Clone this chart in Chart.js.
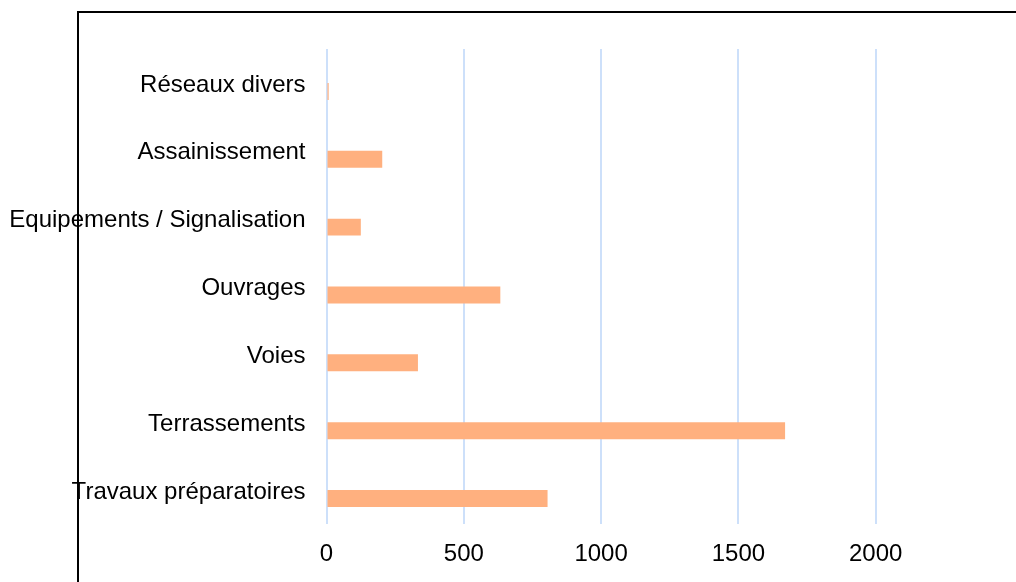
<!DOCTYPE html>
<html>
<head>
    <title>Travaux</title>
    <style>
        body {
            margin: 0;
            background: #ffffff;
        }

        .frame {
            position: absolute;
            left: 77px;
            top: 11px;
            width: 1000px;
            height: 600px;
            border-top: 2px solid #000;
            border-left: 2px solid #000;
        }

        .chart-container {
            position: absolute;
            left: 0;
            top: 0;
            width: 1016px;
            height: 582px;
        }
    </style>
    <script src="https://cdn.jsdelivr.net/npm/chart.js"></script>
</head>
<body>

    <div class="frame"></div>
    <div class="chart-container">
        <canvas id="travauxChart"></canvas>
    </div>

    <script>
        const categories = [
            'Réseaux divers',
            'Assainissement',
            'Equipements / Signalisation',
            'Ouvrages',
            'Voies',
            'Terrassements',
            'Travaux préparatoires'
        ];
        const values = [8, 203, 125, 633, 333, 1670, 805];
        const tickValues = [0, 500, 1000, 1500, 2000];

        const ctx = document.getElementById('travauxChart').getContext('2d');

        new Chart(ctx, {
            type: 'bar',
            data: {
                labels: categories,
                datasets: [{
                    // empty series, keeps the visible bars in the lower half of each band
                    label: '',
                    data: categories.map(() => null),
                    backgroundColor: 'rgba(0,0,0,0)'
                }, {
                    label: 'Montant',
                    data: values,
                    backgroundColor: '#ffb07f',
                    borderWidth: 0
                }]
            },
            options: {
                indexAxis: 'y',
                responsive: true,
                maintainAspectRatio: false,
                animation: false,
                categoryPercentage: 0.5,
                barPercentage: 1,
                layout: {
                    padding: { top: 49, right: 3, bottom: 0, left: 0 }
                },
                plugins: {
                    legend: { display: false },
                    tooltip: { enabled: false }
                },
                scales: {
                    y: {
                        grid: { display: false, drawTicks: false },
                        border: { display: false },
                        ticks: {
                            color: '#000',
                            padding: 21,
                            labelOffset: 2,
                            font: { family: 'Liberation Sans', size: 24 }
                        },
                        afterFit: scale => { scale.width = 326.5; }
                    },
                    x: {
                        min: 0,
                        max: 2500,
                        border: { display: false },
                        grid: {
                            color: '#cde0fa',
                            lineWidth: 2,
                            drawTicks: false
                        },
                        afterBuildTicks: scale => {
                            scale.ticks = tickValues.map(v => ({ value: v }));
                        },
                        ticks: {
                            color: '#000',
                            padding: 16,
                            font: { family: 'Liberation Sans', size: 24 },
                            callback: value => String(value)
                        },
                        afterFit: scale => { scale.height = 58; }
                    }
                }
            }
        });
    </script>

</body>
</html>
